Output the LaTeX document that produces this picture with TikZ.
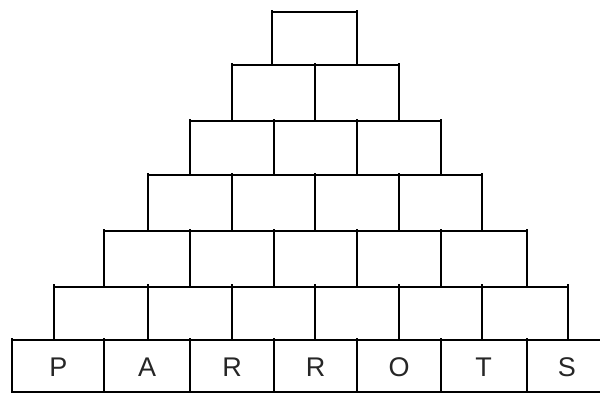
\documentclass[tikz,border=0pt]{standalone}
\usepackage{fontspec}
\setmainfont{Liberation Sans}
\newcommand\brickrow[5]{%
  \draw[brick] (#3,#1) -- (#4,#1) (#3,#2) -- (#4,#2);
  \foreach \xx in {#5} \draw[brick] (\xx,#1-1.5) -- (\xx,#2);
}
\begin{document}
\begin{tikzpicture}[x=1pt,y=-1pt,
  brick/.style={line width=2pt, line cap=rect, draw=black},
  letter/.style={font=\fontsize{27}{27}\selectfont, text=black!85, inner sep=0pt}]
\useasboundingbox (0,0) rectangle (600,394);
\clip (0,0) rectangle (600,394);
\brickrow{12}{65.3}{272}{357}{272,357}
\brickrow{65.3}{121}{231.7}{399}{231.7,315,399}
\brickrow{121}{175.3}{189.5}{440.7}{189.5,273.5,357.3,440.7}
\brickrow{175.3}{231}{147.8}{482.3}{147.8,231.7,315,399,482.3}
\brickrow{231}{286.7}{104.3}{526.7}{104.3,190,274,357.3,440.7,526.7}
\brickrow{286.7}{340}{54.3}{568.3}{54.3,148.3,231.7,315,399,482.3,568.3}
\brickrow{340}{392}{12.3}{607}{12.3,104.3,190,274,357.3,440.7,526.7,607}
\node[letter] (l1) at (58.3,367) {P};
\node[letter] (l2) at (147.2,367) {A};
\node[letter] (l3) at (232,367) {R};
\node[letter] (l4) at (315.7,367) {R};
\node[letter] (l5) at (399,367) {O};
\node[letter] (l6) at (483.7,367) {T};
\node[letter] (l7) at (566.8,367) {S};
\end{tikzpicture}
\end{document}
